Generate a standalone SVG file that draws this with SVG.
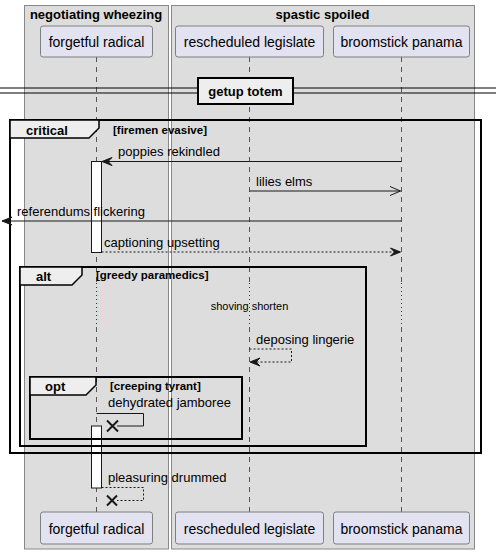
<svg xmlns="http://www.w3.org/2000/svg" width="496" height="554" viewBox="0 0 496 554">
  <defs>
    <style>
      .grp { fill: #DDDDDD; stroke: #888888; stroke-width: 1; }
      .grptitle { font-family: "Liberation Sans", Arial, sans-serif; font-size: 13px; font-weight: bold; fill: #000; text-anchor: middle; }
      .part { fill: #E2E2F0; stroke: #7f7f7f; stroke-width: 1; }
      .ptext { font-family: "Liberation Sans", Arial, sans-serif; font-size: 14px; fill: #000; text-anchor: middle; }
      .life { stroke: #555555; stroke-width: 1; stroke-dasharray: 5,5; fill: none; }
      .delay { stroke: #A80036; stroke-width: 1; stroke-dasharray: 1,3; fill: none; }
      .act { fill: #FFFFFF; stroke: #181818; stroke-width: 1; }
      .msg { stroke: #181818; stroke-width: 1; fill: none; }
      .dash { stroke-dasharray: 2,2; }
      .head { fill: #181818; stroke: #181818; stroke-width: 1; }
      .mtext { font-family: "Liberation Sans", Arial, sans-serif; font-size: 13px; fill: #000; }
      .small { font-family: "Liberation Sans", Arial, sans-serif; font-size: 11px; fill: #000; }
      .frame { fill: none; stroke: #000; stroke-width: 2; }
      .tab { fill: #EEEEEE; stroke: #000; stroke-width: 1.5; }
      .flabel { font-family: "Liberation Sans", Arial, sans-serif; font-size: 13px; font-weight: bold; fill: #000; }
      .cond { font-family: "Liberation Sans", Arial, sans-serif; font-size: 11.5px; font-weight: bold; fill: #000; }
      .kill { stroke: #181818; stroke-width: 2; }
    </style>
  </defs>

  <!-- participant groups -->
  <g id="group-negotiating-wheezing">
    <rect class="grp" x="24.5" y="5.5" width="144" height="543.5"/>
    <text class="grptitle" x="96" y="19">negotiating wheezing</text>
  </g>
  <g id="group-spastic-spoiled">
    <rect class="grp" x="171.5" y="5.5" width="303" height="543.5"/>
    <text class="grptitle" x="322.5" y="19">spastic spoiled</text>
  </g>

  <!-- lifelines -->
  <g id="lifelines">
    <path class="life" d="M96.5,57 V283 M96.5,327 V512"/>
    <path class="delay" d="M96.5,283 V327"/>
    <path class="life" d="M249.5,57 V283 M249.5,327 V512"/>
    <path class="delay" d="M249.5,283 V327"/>
    <path class="life" d="M401.5,57 V283 M401.5,327 V512"/>
    <path class="delay" d="M401.5,283 V327"/>
  </g>

  <!-- participants (top and bottom) -->
  <g id="forgetful-radical">
    <rect class="part" x="40.5" y="26" width="112" height="31" rx="2.5"/>
    <text class="ptext" x="96.5" y="47">forgetful radical</text>
    <rect class="part" x="40.5" y="512" width="112" height="32" rx="2.5"/>
    <text class="ptext" x="96.5" y="534">forgetful radical</text>
  </g>
  <g id="rescheduled-legislate">
    <rect class="part" x="175.5" y="26" width="148" height="31" rx="2.5"/>
    <text class="ptext" x="249.5" y="47">rescheduled legislate</text>
    <rect class="part" x="175.5" y="512" width="148" height="32" rx="2.5"/>
    <text class="ptext" x="249.5" y="534">rescheduled legislate</text>
  </g>
  <g id="broomstick-panama">
    <rect class="part" x="333.5" y="26" width="136" height="31" rx="2.5"/>
    <text class="ptext" x="401.5" y="47">broomstick panama</text>
    <rect class="part" x="333.5" y="512" width="136" height="32" rx="2.5"/>
    <text class="ptext" x="401.5" y="534">broomstick panama</text>
  </g>

  <!-- divider -->
  <g id="divider-getup-totem">
    <path d="M0,88 H198 M0,93 H198 M293,88 H496 M293,93 H496" stroke="#000" stroke-width="1" fill="none"/>
    <rect x="198" y="78" width="95" height="26" fill="#EEEEEE" stroke="#000" stroke-width="2"/>
    <text class="flabel" x="245.5" y="96" text-anchor="middle">getup totem</text>
  </g>

  <!-- activations -->
  <g id="activations">
    <rect class="act" x="91.5" y="161.5" width="10" height="91"/>
    <rect class="act" x="91.5" y="426" width="10" height="62"/>
  </g>

  <!-- fragments -->
  <g id="frame-critical">
    <rect class="frame" x="10" y="120" width="471" height="333"/>
    <path class="tab" d="M10,120 H99 V128 L89,138 H10 Z"/>
    <text class="flabel" x="26" y="135">critical</text>
    <text class="cond" x="113" y="134">[firemen evasive]</text>
  </g>
  <g id="frame-alt">
    <rect class="frame" x="20" y="267" width="346" height="179"/>
    <path class="tab" d="M20,267 H82 V275 L72,285 H20 Z"/>
    <text class="flabel" x="36" y="281">alt</text>
    <text class="cond" x="96" y="279">[greedy paramedics]</text>
  </g>
  <g id="frame-opt">
    <rect class="frame" x="30" y="377" width="212" height="62"/>
    <path class="tab" d="M30,377 H96 V385 L86,395 H30 Z"/>
    <text class="flabel" x="45" y="391">opt</text>
    <text class="cond" x="110" y="390">[creeping tyrant]</text>
  </g>

  <!-- connectors -->
  <g id="connectors">
    <!-- poppies rekindled -->
    <line class="msg" x1="401.5" y1="161.5" x2="102" y2="161.5"/>
    <polygon class="head" points="102,161.5 112,157.5 108,161.5 112,165.5"/>
    <text class="mtext" x="118" y="156">poppies rekindled</text>

    <!-- lilies elms -->
    <line class="msg" x1="249.5" y1="191" x2="400.5" y2="191"/>
    <path class="msg" d="M390,186.5 L400.5,191 L390,195.5"/>
    <text class="mtext" x="256" y="186">lilies elms</text>

    <!-- referendums flickering -->
    <line class="msg" x1="401.5" y1="221" x2="2" y2="221"/>
    <polygon class="head" points="2,221 12,217 8,221 12,225"/>
    <text class="mtext" x="17" y="216">referendums flickering</text>

    <!-- captioning upsetting -->
    <line class="msg dash" x1="101.5" y1="252" x2="400" y2="252"/>
    <polygon class="head" points="400.5,252 390.5,248 394.5,252 390.5,256"/>
    <text class="mtext" x="104" y="247">captioning upsetting</text>

    <!-- shoving shorten (delay) -->
    <text class="small" x="249.5" y="310" text-anchor="middle">shoving shorten</text>

    <!-- deposing lingerie -->
    <path class="msg dash" d="M249.5,349 H291.5 V362 H250.5"/>
    <polygon class="head" points="250,362 260,358 256,362 260,366"/>
    <text class="mtext" x="256" y="344">deposing lingerie</text>

    <!-- dehydrated jamboree -->
    <path class="msg" d="M96.5,413.5 H143.5 V426 H117"/>
    <path class="kill" d="M107,420.5 L118,431.5 M118,420.5 L107,431.5"/>
    <text class="mtext" x="108" y="407">dehydrated jamboree</text>

    <!-- pleasuring drummed -->
    <path class="msg dash" d="M101.5,487.5 H143.5 V500.5 H117"/>
    <path class="kill" d="M107,495.5 L117,505.5 M117,495.5 L107,505.5"/>
    <text class="mtext" x="108" y="482">pleasuring drummed</text>
  </g>
</svg>
